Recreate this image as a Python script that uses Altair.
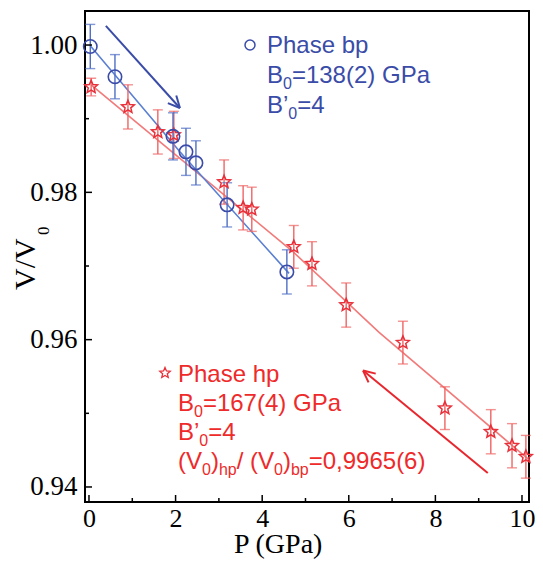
import math
import altair as alt
import pandas as pd

# ---------------- data ----------------
bp_P = [0.03, 0.60, 1.94, 2.24, 2.47, 3.19, 4.57]
bp_V = [0.9998, 0.9957, 0.9876, 0.9855, 0.9840, 0.9783, 0.9692]
bp_err = [0.0030, 0.0030, 0.0032, 0.0032, 0.0030, 0.0030, 0.0030]

hp_P = [0.05, 0.90, 1.59, 1.96, 3.12, 3.56, 3.76, 4.73, 5.15, 5.94, 7.25, 8.22, 9.28, 9.77, 10.09]
hp_V = [0.9943, 0.9916, 0.9882, 0.9878, 0.9814, 0.9779, 0.9777, 0.9726, 0.9703, 0.9647,
        0.9596, 0.9507, 0.9475, 0.9456, 0.9441]
hp_err = [0.0012, 0.0030, 0.0030, 0.0032, 0.0030, 0.0030, 0.0030, 0.0029, 0.0030, 0.0030,
          0.0029, 0.0029, 0.0030, 0.0030, 0.0029]

bp_fit_P = [0.03, 2.10, 4.62]
bp_fit_V = [0.9999, 0.9855, 0.9690]
hp_fit_P = [0.05, 2.10, 4.70, 6.70, 10.16]
hp_fit_V = [0.9946, 0.9846, 0.9720, 0.9610, 0.9437]

# arrows: tail -> head
arrow_names = ["bp", "hp"]
arrow_P = [0.39, 9.21]
arrow_V = [1.0026, 0.9419]
arrow_P2 = [2.10, 6.33]
arrow_V2 = [0.99145, 0.9558]

x_major = [0, 2, 4, 6, 8, 10]
x_minor = [1, 3, 5, 7, 9]
y_major = [0.94, 0.96, 0.98, 1.00]
y_minor = [0.95, 0.97, 0.99]

# ---------------- styling / layout ----------------
W, H = 444, 491
XDOM = [-0.092, 10.162]
YDOM = [0.93796, 1.00462]
BLUE = "#3a4ca8"
BLUE_ERR = "#4f6fc4"
BLUE_LINE = "#5b80d2"
RED = "#e8303a"
RED_ERR = "#f06464"
RED_LINE = "#f27a7a"
RED_TXT = "#ee2a2a"
SERIF = "Liberation Serif"
SANS = "Liberation Sans"

# five-pointed star outline as a custom symbol path
_pts = []
for k in range(10):
    r = 1.0 if k % 2 == 0 else 0.45
    a = -math.pi / 2 + k * math.pi / 5
    _pts.append(f"{r * math.cos(a):.3f} {r * math.sin(a):.3f}")
STAR = "M " + " L ".join(_pts) + " Z"

xs = alt.Scale(domain=XDOM, nice=False, zero=False)
ys = alt.Scale(domain=YDOM, nice=False, zero=False)
xaxis = alt.Axis(values=x_major, ticks=False, domain=False, grid=False, title=None,
                 labelFont=SERIF, labelFontSize=26, labelColor="black", labelPadding=3,
                 labelFlush=False, labelOverlap=False, labelBound=False)
yaxis = alt.Axis(values=y_major, format=".2f", ticks=False, domain=False, grid=False, title=None,
                 labelFont=SERIF, labelFontSize=27, labelColor="black", labelPadding=8,
                 labelFlush=False, labelOverlap=False, labelBound=False)


def X(f):
    return alt.X(f, type="quantitative", scale=xs, axis=xaxis)


def Y(f):
    return alt.Y(f, type="quantitative", scale=ys, axis=yaxis)


bp = pd.DataFrame({"P": bp_P, "V": bp_V, "lo": [v - e for v, e in zip(bp_V, bp_err)],
                   "hi": [v + e for v, e in zip(bp_V, bp_err)]})
hp = pd.DataFrame({"P": hp_P, "V": hp_V, "lo": [v - e for v, e in zip(hp_V, hp_err)],
                   "hi": [v + e for v, e in zip(hp_V, hp_err)]})
bp_caps = pd.DataFrame({"P": bp_P * 2, "V": list(bp["lo"]) + list(bp["hi"])})
hp_caps = pd.DataFrame({"P": hp_P * 2, "V": list(hp["lo"]) + list(hp["hi"])})
bp_fit = pd.DataFrame({"P": bp_fit_P, "V": bp_fit_V})
hp_fit = pd.DataFrame({"P": hp_fit_P, "V": hp_fit_V})

# arrow shafts plus two head wings, all as segments derived from the arrow data
pxP = W / (XDOM[1] - XDOM[0])
pxV = H / (YDOM[1] - YDOM[0])
seg = []
for n, p1, v1, p2, v2 in zip(arrow_names, arrow_P, arrow_V, arrow_P2, arrow_V2):
    seg.append(dict(name=n, P=p1, V=v1, P2=p2, V2=v2))
    dx, dy = (p2 - p1) * pxP, -(v2 - v1) * pxV
    ln = math.hypot(dx, dy)
    ux, uy = -dx / ln, -dy / ln
    for th in (0.45, -0.45):
        ox = 13 * (ux * math.cos(th) - uy * math.sin(th))
        oy = 13 * (ux * math.sin(th) + uy * math.cos(th))
        seg.append(dict(name=n, P=p2, V=v2, P2=p2 + ox / pxP, V2=v2 - oy / pxV))
arrows = pd.DataFrame(seg)

layers = []
layers.append(alt.Chart(hp_fit).mark_line(color=RED_LINE, strokeWidth=1.6).encode(x=X("P"), y=Y("V")))
layers.append(alt.Chart(bp_fit).mark_line(color=BLUE_LINE, strokeWidth=1.6).encode(x=X("P"), y=Y("V")))
for df, caps, col in [(hp, hp_caps, RED_ERR), (bp, bp_caps, BLUE_ERR)]:
    layers.append(alt.Chart(df).mark_rule(color=col, strokeWidth=1.4).encode(
        x=X("P"), y=Y("lo"), y2="hi"))
    layers.append(alt.Chart(caps).mark_tick(color=col, orient="horizontal", size=10, thickness=1.4).encode(
        x=X("P"), y=Y("V")))
layers.append(alt.Chart(hp).mark_point(shape=STAR, filled=False, color=RED, size=180, strokeWidth=1.5,
                                       opacity=1).encode(x=X("P"), y=Y("V")))
layers.append(alt.Chart(bp).mark_point(shape="circle", filled=False, color=BLUE, size=180, strokeWidth=1.6,
                                       opacity=1).encode(x=X("P"), y=Y("V")))
arrow_col = alt.Color("name:N", scale=alt.Scale(domain=arrow_names, range=[BLUE, "#e8262e"]), legend=None)
layers.append(alt.Chart(arrows).mark_rule(strokeWidth=2).encode(
    x=X("P"), y=Y("V"), x2="P2", y2="V2", color=arrow_col))

for vals, ln in [(x_major, 7), (x_minor, 4)]:
    layers.append(alt.Chart(pd.DataFrame({"t": vals})).mark_rule(color="black", strokeWidth=1.5).encode(
        x=X("t"), y=alt.value(H), y2=alt.value(H - ln)))
for vals, ln in [(y_major, 7), (y_minor, 4)]:
    layers.append(alt.Chart(pd.DataFrame({"t": vals})).mark_rule(color="black", strokeWidth=1.5).encode(
        y=Y("t"), x=alt.value(0), x2=alt.value(ln)))

# ---------------- annotation text ----------------
AW = {' ': 0.278, '(': 0.333, ')': 0.333, ',': 0.278, '/': 0.278, '=': 0.584, '’': 0.222,
      'B': 0.667, 'G': 0.778, 'P': 0.667, 'V': 0.667, 'a': 0.556, 'b': 0.556, 'e': 0.556,
      'h': 0.556, 'p': 0.556, 's': 0.5}
MAIN, SUB = 24, 16


def line_segments(parts, x0, base):
    out = []
    x = x0
    for t, sub in parts:
        fs = SUB if sub else MAIN
        out.append((t, x, base + (6 if sub else 0), fs))
        x += sum(AW.get(ch, 0.556) for ch in t) * fs
    return out


blue_lines = [
    [("Phase bp", False)],
    [("B", False), ("0", True), ("=138(2) GPa", False)],
    [("B’", False), ("0", True), ("=4", False)],
]
red_lines = [
    [("Phase hp", False)],
    [("B", False), ("0", True), ("=167(4) GPa", False)],
    [("B’", False), ("0", True), ("=4", False)],
    [("(V", False), ("0", True), (")", False), ("hp", True), ("/ (V", False), ("0", True), (")", False),
     ("bp", True), ("=0,9965(6)", False)],
]

rows = []
for i, parts in enumerate(blue_lines):
    for t, x, y, fs in line_segments(parts, 182, 42 + 30 * i):
        rows.append(dict(t=t, x=x, y=y, fs=fs, c=BLUE))
for i, parts in enumerate(red_lines):
    for t, x, y, fs in line_segments(parts, 93, 371 + 29 * i):
        rows.append(dict(t=t, x=x, y=y, fs=fs, c=RED_TXT))

dummy = pd.DataFrame({"a": [0]})
for r in rows:
    layers.append(alt.Chart(dummy).mark_text(text=r["t"], font=SANS, fontSize=r["fs"], color=r["c"],
                                             align="left", baseline="alphabetic").encode(
        x=alt.value(r["x"]), y=alt.value(r["y"])))
layers.append(alt.Chart(dummy).mark_point(shape="circle", filled=False, color=BLUE, size=100, strokeWidth=1.5,
                                          opacity=1).encode(x=alt.value(165), y=alt.value(34)))
layers.append(alt.Chart(dummy).mark_point(shape=STAR, filled=False, color=RED, size=120, strokeWidth=1.3,
                                          opacity=1).encode(x=alt.value(80), y=alt.value(362)))

layers.append(alt.Chart(dummy).mark_text(text="P (GPa)", font=SERIF, fontSize=28, color="black", align="left",
                                         baseline="alphabetic").encode(x=alt.value(149), y=alt.value(542)))
layers.append(alt.Chart(dummy).mark_text(text="V/V", font=SERIF, fontSize=30, color="black", align="left",
                                         baseline="alphabetic", angle=270).encode(x=alt.value(-50), y=alt.value(279)))
layers.append(alt.Chart(dummy).mark_text(text="0", font=SERIF, fontSize=17, color="black", align="left",
                                         baseline="alphabetic", angle=270).encode(x=alt.value(-36), y=alt.value(224)))

chart = alt.layer(*layers).properties(
    width=W, height=H,
    autosize=alt.AutoSizeParams(type="none"),
    padding={"left": 77, "top": 3, "right": 6, "bottom": 57},
    background="white",
).configure_view(stroke="black", strokeWidth=2)

chart.save("out.html", embed_options={"renderer": "svg", "actions": False})
